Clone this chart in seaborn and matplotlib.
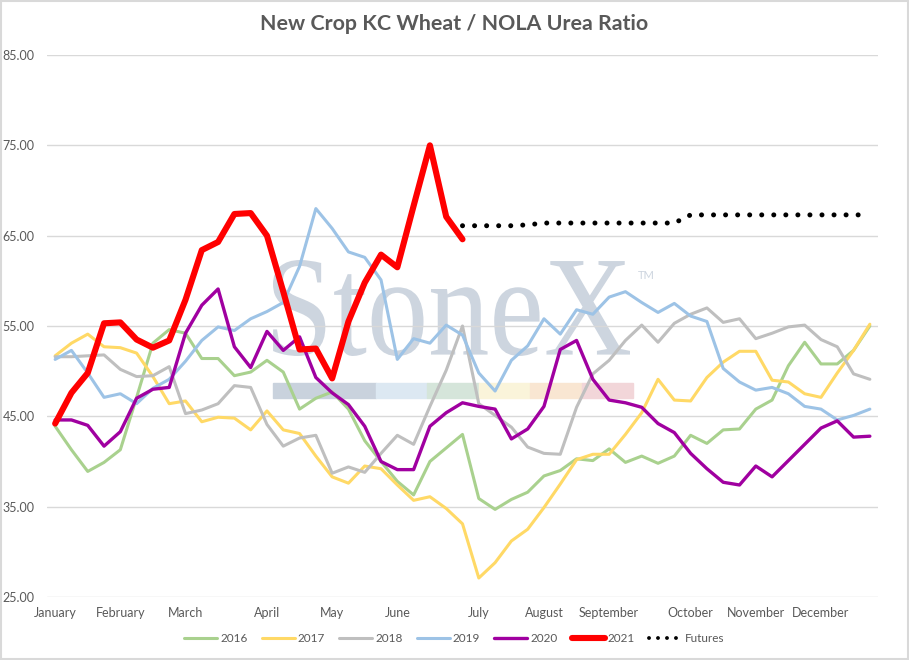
import numpy as np
import pandas as pd
import matplotlib
matplotlib.use('Agg')
import matplotlib.pyplot as plt
import seaborn as sns
from matplotlib.patches import Rectangle, PathPatch
from matplotlib.textpath import TextPath
from matplotlib.font_manager import FontProperties
from matplotlib.transforms import Affine2D


# weekly ratio, one value per week (51 weeks on a category axis)
month_names = ['January', 'February', 'March', 'April', 'May', 'June',
               'July', 'August', 'September', 'October', 'November', 'December']
month_weeks = [0, 4, 8, 13, 17, 21, 26, 30, 34, 39, 43, 47]

y2016 = [43.9, 41.3, 38.9, 39.9, 41.3, 47.1, 53.1, 54.6, 54.2, 51.4,
         51.4, 49.5, 49.9, 51.2, 49.9, 45.8, 47.0, 47.7, 45.8, 42.3,
         40.0, 37.8, 36.3, 40.0, 41.5, 43.0, 35.9, 34.7, 35.8, 36.6,
         38.4, 39.0, 40.3, 40.1, 41.4, 39.9, 40.6, 39.8, 40.6, 42.9,
         42.0, 43.5, 43.6, 45.8, 46.8, 50.6, 53.2, 50.8, 50.8, 52.3, 55.0]
y2017 = [51.7, 53.1, 54.1, 52.7, 52.6, 52.0, 49.4, 46.4, 46.7, 44.4,
         44.9, 44.8, 43.5, 45.6, 43.5, 43.1, 40.6, 38.3, 37.6, 39.5,
         39.2, 37.4, 35.7, 36.1, 34.8, 33.1, 27.1, 28.8, 31.2, 32.5,
         34.9, 37.5, 40.2, 40.8, 40.8, 43.0, 45.4, 49.1, 46.8, 46.7,
         49.3, 51.0, 52.2, 52.2, 49.0, 48.8, 47.5, 47.1, 49.8, 52.3, 55.2]
y2018 = [51.6, 51.6, 51.7, 51.8, 50.2, 49.4, 49.5, 50.5, 45.3, 45.7,
         46.4, 48.4, 48.2, 44.1, 41.7, 42.6, 42.9, 38.7, 39.4, 38.8,
         40.9, 42.9, 41.9, 46.1, 50.1, 55.0, 46.4, 45.1, 43.8, 41.6,
         40.9, 40.8, 46.0, 49.7, 51.2, 53.4, 55.1, 53.2, 55.3, 56.3,
         57.0, 55.4, 55.8, 53.6, 54.2, 54.9, 55.1, 53.5, 52.7, 49.7, 49.1]
y2019 = [51.3, 52.3, 49.8, 47.1, 47.5, 46.4, 48.1, 49.1, 51.1, 53.4,
         54.9, 54.5, 55.8, 56.6, 57.6, 61.6, 68.0, 65.8, 63.2, 62.6,
         60.1, 51.3, 53.6, 53.1, 55.1, 54.0, 49.8, 47.8, 51.2, 52.8,
         55.8, 54.1, 56.8, 56.3, 58.2, 58.8, 57.6, 56.5, 57.5, 56.1,
         55.5, 50.3, 48.8, 47.9, 48.2, 47.5, 46.1, 45.8, 44.6, 45.1, 45.8]
y2020 = [44.6, 44.6, 44.0, 41.7, 43.3, 47.0, 48.0, 48.2, 54.2, 57.3,
         59.1, 52.7, 50.4, 54.4, 52.3, 53.8, 49.3, 47.6, 46.3, 43.9,
         40.0, 39.1, 39.1, 43.9, 45.4, 46.5, 46.1, 45.8, 42.5, 43.6,
         46.1, 52.4, 53.4, 49.1, 46.8, 46.5, 46.0, 44.2, 43.2, 40.9,
         39.2, 37.7, 37.4, 39.5, 38.3, 40.1, 41.9, 43.7, 44.5, 42.7, 42.8]
y2021 = [44.2, 47.6, 49.8, 55.3, 55.4, 53.5, 52.6, 53.4, 57.9, 63.4,
         64.3, 67.4, 67.5, 65.0, 58.8, 52.4, 52.5, 49.2, 55.5, 59.8,
         62.9, 61.5, 68.3, 75.0, 67.1, 64.6]
futures_start = 25
futures = [66.1, 66.1, 66.1, 66.1, 66.2,
           66.4, 66.4, 66.4, 66.4, 66.4, 66.4, 66.4, 66.4, 66.4,
           67.3, 67.3, 67.3, 67.3, 67.3, 67.3, 67.3, 67.3, 67.3, 67.3, 67.3, 67.3]

series = [('2016', y2016, '#A9D18E', 2.2),
          ('2017', y2017, '#FFD966', 2.2),
          ('2018', y2018, '#BFBFBF', 2.2),
          ('2019', y2019, '#9DC3E6', 2.2),
          ('2020', y2020, '#A000A0', 2.4),
          ('2021', y2021, '#FF0000', 4.4)]

sns.set_theme(style='white')
plt.rcParams['font.family'] = ['Lato', 'DejaVu Sans']
txt_color = '#595959'
W, H = 909, 660

fig = plt.figure(figsize=(9.09, 6.6), dpi=100)
ax = fig.add_axes([47 / W, 1 - 597 / H, 831 / W, 542 / H])
ax.patch.set_alpha(0)

# StoneX watermark behind the chart, stretched to the logo box
tp = TextPath((0, 0), 'StoneX', size=100, prop=FontProperties(family='Liberation Serif'))
bb = tp.get_extents()
sx = 357 / bb.width
sy = 96 / bb.height
wm_tr = Affine2D().translate(-bb.x0, -bb.y0).scale(sx / W, sy / H).translate(273 / W, (H - 356) / H)
fig.patches.append(PathPatch(wm_tr.transform_path(tp), transform=fig.transFigure,
                             color='#CDD5DF', lw=0, zorder=-2))
fig.text(638 / W, 1 - 279 / H, 'TM', fontsize=8, color='#CDD5DF', zorder=-2)
bar_edges = [273, 376, 427, 479, 530, 582, 633]
bar_colors = ['#C9D2DD', '#DCE8F2', '#D5E5DA', '#FAF4DA', '#F9E6D2', '#F2D6D9']
for x0, x1, c in zip(bar_edges[:-1], bar_edges[1:], bar_colors):
    fig.patches.append(Rectangle((x0 / W, 1 - 398 / H), (x1 - x0) / W, 15 / H,
                                 transform=fig.transFigure, color=c, zorder=-2))

for name, vals, color, lw in series:
    weeks = np.arange(len(vals))
    sns.lineplot(x=weeks, y=vals, ax=ax, color=color, lw=lw, label=name,
                 solid_joinstyle='round', solid_capstyle='round')

fut_weeks = np.arange(futures_start, futures_start + len(futures))
sns.lineplot(x=fut_weeks, y=futures, ax=ax, color='black', lw=3.6, label='Futures')
fut_line = ax.lines[-1]
fut_line.set_linestyle((0, (0.01, 2.4)))
fut_line.set_dash_capstyle('round')

ax.set_xlim(-0.5, 50.5)
ax.set_ylim(25, 85)
ax.set_yticks(np.arange(25, 86, 10))
ax.set_yticklabels([f'{v:.2f}' for v in np.arange(25, 86, 10)])
ax.set_xticks(month_weeks)
ax.set_xticklabels(month_names)
ax.tick_params(axis='both', length=0, labelsize=9, labelcolor=txt_color)
ax.tick_params(axis='y', pad=9)
ax.tick_params(axis='x', pad=7)
ax.yaxis.grid(True, color='#D9D9D9', lw=1)
ax.set_axisbelow(True)
for s in ax.spines.values():
    s.set_visible(False)
ax.set_xlabel('')
ax.set_ylabel('')

fig.text(0.5, 1 - 24 / H, 'New Crop KC Wheat / NOLA Urea Ratio', ha='center', va='center',
         fontsize=15.4, fontweight='bold', color=txt_color)

leg = ax.legend(loc='center', bbox_to_anchor=(0.5, 1 - 639 / H), bbox_transform=fig.transFigure,
                ncol=7, frameon=False, fontsize=8.5, handlelength=2.8, handletextpad=0.25,
                columnspacing=1.2)
for t in leg.get_texts():
    t.set_color(txt_color)
leg_fut = leg.get_lines()[-1]
leg_fut.set_linewidth(2.8)
leg_fut.set_linestyle((0, (0.01, 2.3)))
leg_fut.set_dash_capstyle('round')

fig.patches.append(Rectangle((0.001, 0.001), 0.998, 0.998, transform=fig.transFigure,
                             fill=False, ec='#D9D9D9', lw=1.5))

fig.savefig('out.png', dpi=100)
